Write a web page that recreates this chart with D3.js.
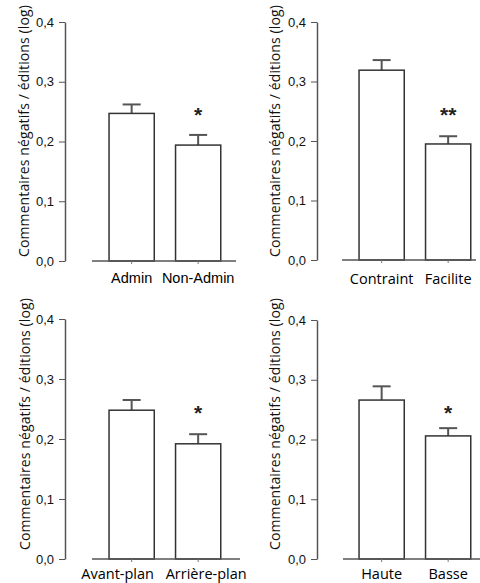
<!DOCTYPE html>
<html>
<head>
<meta charset="utf-8">
<script src="https://cdn.jsdelivr.net/npm/d3@7"></script>
<style>
  body { margin: 0; background: #fff; }
</style>
</head>
<body>
<svg id="chart" width="480" height="583"></svg>
<script>
// data
var panelCategories = [["Admin", "Non-Admin"], ["Contraint", "Facilite"], ["Avant-plan", "Arrière-plan"], ["Haute", "Basse"]];
var panelMeans = [[0.247, 0.194], [0.319, 0.195], [0.248, 0.192], [0.266, 0.206]];
var panelErrors = [[0.015, 0.017], [0.017, 0.013], [0.017, 0.016], [0.023, 0.013]];
var panelStars = ["*", "**", "*", "*"];
var starLevel = 0.254;
var yTicks = [0, 0.1, 0.2, 0.3, 0.4];
var yTitle = "Commentaires négatifs / éditions (log)";

var arial = "'Liberation Sans', Arial, sans-serif";
var calibriLike = "'Open Sans', sans-serif";

// where each small chart sits on the page
var layout = [
    {axisX: 65, top: 22, bottom: 261, line: [92, 236], band: [98.4, 231.4], labelY: 283, labelDx: [0, 0], labelFont: arial, titleX: 29, titleY: 131},
    {axisX: 317, top: 22, bottom: 260, line: [342, 476], band: [348.4, 481.4], labelY: 284, labelDx: [0, 0], labelFont: calibriLike, titleX: 280, titleY: 131},
    {axisX: 65, top: 319, bottom: 559, line: [92, 240], band: [98.4, 231.4], labelY: 579, labelDx: [-14, 8], labelFont: calibriLike, titleX: 30, titleY: 424},
    {axisX: 317, top: 320, bottom: 559, line: [343, 480], band: [348.4, 481.4], labelY: 579, labelDx: [0, 0], labelFont: calibriLike, titleX: 280, titleY: 424}
];

var svg = d3.select("#chart");
var commaFormat = function (d) { return d3.format(".1f")(d).replace(".", ","); };

layout.forEach(function (p, i) {
    var g = svg.append("g");
    var data = panelCategories[i].map(function (c, j) {
        return {cat: c, mean: panelMeans[i][j], err: panelErrors[i][j]};
    });

    var y = d3.scaleLinear().domain([0, 0.4]).range([p.bottom, p.top]);
    var x = d3.scaleBand()
        .domain(panelCategories[i])
        .range(p.band)
        .paddingInner(0.32)
        .paddingOuter(0.16);

    // y axis
    var yAx = g.append("g")
        .attr("transform", "translate(" + p.axisX + ",0)")
        .call(d3.axisLeft(y).tickValues(yTicks).tickFormat(commaFormat).tickSize(6).tickSizeOuter(0).tickPadding(5));
    yAx.select(".domain").attr("stroke", "#555").attr("stroke-width", 1.5);
    yAx.selectAll(".tick line").attr("stroke", "#555").attr("stroke-width", 1);
    yAx.selectAll("text")
        .style("font-family", arial)
        .style("font-size", "13px")
        .attr("fill", "#111");

    // y title, squeezed to the length seen in the figure
    var title = g.append("text")
        .attr("transform", "translate(" + p.titleX + "," + p.titleY + ") rotate(-90)")
        .attr("text-anchor", "middle")
        .style("font-family", calibriLike)
        .style("font-size", "14px")
        .attr("fill", "#111")
        .text(yTitle);
    var len = title.node().getComputedTextLength();
    title.style("letter-spacing", ((252 - len) / yTitle.length) + "px");

    // error bars (drawn first, bars cover the lower half)
    g.selectAll(".err")
        .data(data)
        .enter().append("line")
        .attr("x1", function (d) { return x(d.cat) + x.bandwidth() / 2; })
        .attr("x2", function (d) { return x(d.cat) + x.bandwidth() / 2; })
        .attr("y1", function (d) { return y(d.mean); })
        .attr("y2", function (d) { return y(d.mean + d.err); })
        .attr("stroke", "#555")
        .attr("stroke-width", 2);
    g.selectAll(".cap")
        .data(data)
        .enter().append("line")
        .attr("x1", function (d) { return x(d.cat) + x.bandwidth() / 2 - 9; })
        .attr("x2", function (d) { return x(d.cat) + x.bandwidth() / 2 + 9; })
        .attr("y1", function (d) { return y(d.mean + d.err); })
        .attr("y2", function (d) { return y(d.mean + d.err); })
        .attr("stroke", "#555")
        .attr("stroke-width", 2);

    // bars
    g.selectAll(".bar")
        .data(data)
        .enter().append("rect")
        .attr("x", function (d) { return x(d.cat); })
        .attr("width", x.bandwidth())
        .attr("y", function (d) { return y(d.mean); })
        .attr("height", function (d) { return y(0) - y(d.mean); })
        .attr("fill", "#fff")
        .attr("stroke", "#333")
        .attr("stroke-width", 1.5);

    // x axis
    g.append("line")
        .attr("x1", p.line[0])
        .attr("x2", p.line[1])
        .attr("y1", y(0))
        .attr("y2", y(0))
        .attr("stroke", "#555")
        .attr("stroke-width", 1.5);
    var xAx = g.append("g")
        .attr("transform", "translate(0," + y(0) + ")")
        .call(d3.axisBottom(x).tickSize(3).tickSizeOuter(0).tickPadding(0));
    xAx.select(".domain").remove();
    xAx.selectAll(".tick line").attr("stroke", "#777");
    xAx.selectAll("text")
        .attr("dy", null)
        .attr("y", p.labelY - y(0))
        .attr("x", function (d, j) { return p.labelDx[j]; })
        .style("font-family", p.labelFont)
        .style("font-size", "14.5px")
        .attr("fill", "#000");

    // significance
    var last = data[data.length - 1];
    g.append("text")
        .attr("x", x(last.cat) + x.bandwidth() / 2)
        .attr("y", y(starLevel) + 13)
        .attr("text-anchor", "middle")
        .style("font-family", arial)
        .style("font-weight", "bold")
        .style("font-size", "21px")
        .attr("fill", "#222")
        .text(panelStars[i]);
});
</script>
</body>
</html>
